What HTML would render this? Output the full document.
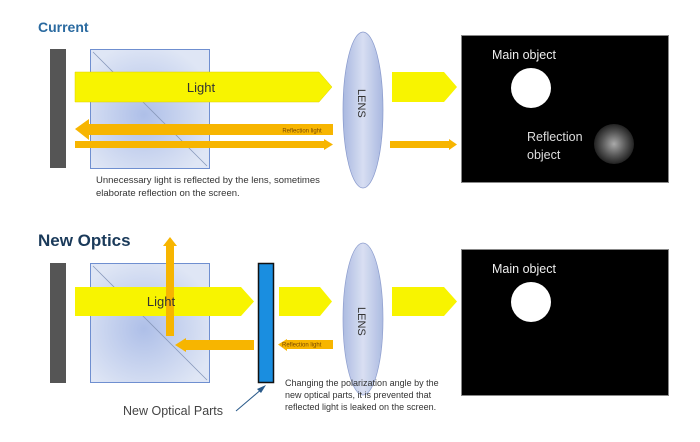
<!DOCTYPE html>
<html><head><meta charset="utf-8"><style>
html,body{margin:0;padding:0;background:#fff;width:700px;height:442px;overflow:hidden}
</style></head><body>
<svg width="700" height="442" viewBox="0 0 700 442" xmlns="http://www.w3.org/2000/svg" font-family="Liberation Sans, DejaVu Sans, sans-serif">
<defs>
<radialGradient id="pg" cx="0.45" cy="0.55" r="0.6"><stop offset="0" stop-color="#aebfe8"/><stop offset="1" stop-color="#dfe6f5"/></radialGradient>
<linearGradient id="lg" x1="0" y1="0" x2="1" y2="0"><stop offset="0" stop-color="#a9b8e0"/><stop offset="0.5" stop-color="#d7def2"/><stop offset="1" stop-color="#a9b8e0"/></linearGradient>
<radialGradient id="rg"><stop offset="0" stop-color="#aaa"/><stop offset="0.6" stop-color="#555"/><stop offset="1" stop-color="#222"/></radialGradient>
</defs>
<!-- Current -->
<text x="38" y="32" font-size="14" font-weight="bold" fill="#2a6aa0">Current</text>
<rect x="50" y="49" width="16" height="119" fill="#555"/>
<rect x="90.5" y="49.5" width="119" height="119" fill="url(#pg)" stroke="#6f8fd0"/>
<line x1="93" y1="52" x2="207" y2="166" stroke="#8899bb" stroke-width="0.8"/>
<polygon points="75,72 319,72 332,87 319,102 75,102" fill="#f8f400" stroke="#e0d000" stroke-width="0.5"/>
<text x="201" y="92" font-size="13" text-anchor="middle" fill="#333">Light</text>
<polygon points="75,129 89,119 89,124 333,124 333,135 89,135 89,140" fill="#f7b500"/>
<text x="302" y="132.5" font-size="6" text-anchor="middle" fill="#7a4a00">Reflection light</text>
<polygon points="75,141 324,141 324,139 333,144.5 324,150 324,148 75,148" fill="#f7b500"/>
<ellipse cx="363" cy="110" rx="20" ry="78" fill="url(#lg)" stroke="#8899cc" stroke-width="0.7"/>
<text x="0" y="0" font-size="11" fill="#333" transform="translate(358,89) rotate(90)">LENS</text>
<polygon points="392,72 444,72 457,87 444,102 392,102" fill="#f8f400"/>
<polygon points="390,141 449,141 449,139 457,144.5 449,150 449,148 390,148" fill="#f7b500"/>
<text x="96" y="183" font-size="9.5" fill="#333">Unnecessary light is reflected by the lens, sometimes</text>
<text x="96" y="196" font-size="9.5" fill="#333">elaborate reflection on the screen.</text>
<rect x="461.5" y="35.5" width="207" height="147" fill="#000" stroke="#888"/>
<text x="492" y="59" font-size="12.5" fill="#eee">Main object</text>
<circle cx="531" cy="88" r="20" fill="#fff"/>
<text x="527" y="141" font-size="12.5" fill="#ddd">Reflection</text>
<text x="527" y="159" font-size="12.5" fill="#ddd">object</text>
<circle cx="614" cy="144" r="20" fill="url(#rg)"/>
<!-- New Optics -->
<text x="38" y="246" font-size="17" font-weight="bold" fill="#1a3a5a">New Optics</text>
<rect x="50" y="263" width="16" height="120" fill="#555"/>
<rect x="90.5" y="263.5" width="119" height="119" fill="url(#pg)" stroke="#6f8fd0"/>
<line x1="93" y1="266" x2="207" y2="380" stroke="#8899bb" stroke-width="0.8"/>
<polygon points="75,287 241,287 254,301.5 241,316 75,316" fill="#f8f400"/>
<polygon points="166,336 166,246 163,246 170,237 177,246 174,246 174,336" fill="#f7b500"/>
<text x="161" y="306" font-size="13" text-anchor="middle" fill="#333">Light</text>
<polygon points="175,345 186,338 186,340 254,340 254,350 186,350 186,352" fill="#f7b500"/>
<rect x="258.5" y="263.5" width="15" height="119" fill="#1a8ee0" stroke="#111" stroke-width="1.5"/>
<polygon points="279,287 320,287 332,301.5 320,316 279,316" fill="#f8f400"/>
<polygon points="278,344.5 287,339 287,340 333,340 333,349 287,349 287,351" fill="#f7b500"/>
<text x="282" y="346.5" font-size="6" fill="#7a4a00">Reflection light</text>
<ellipse cx="363" cy="319" rx="20" ry="76" fill="url(#lg)" stroke="#8899cc" stroke-width="0.7" opacity="0.95"/>
<text x="0" y="0" font-size="11" fill="#333" transform="translate(358,307) rotate(90)">LENS</text>
<polygon points="392,287 444,287 457,301.5 444,316 392,316" fill="#f8f400"/>
<text x="285" y="386" font-size="9" fill="#333">Changing the polarization angle by the</text>
<text x="285" y="398" font-size="9" fill="#333">new optical parts, it is prevented that</text>
<text x="285" y="410" font-size="9" fill="#333">reflected light is leaked on the screen.</text>
<text x="123" y="415" font-size="12.5" fill="#444">New Optical Parts</text>
<line x1="236" y1="411" x2="263" y2="388" stroke="#2a5a8a" stroke-width="1"/>
<polygon points="266,385 257,389 261,393" fill="#2a5a8a"/>
<rect x="461.5" y="249.5" width="207" height="146" fill="#000" stroke="#888"/>
<text x="492" y="273" font-size="12.5" fill="#eee">Main object</text>
<circle cx="531" cy="302" r="20" fill="#fff"/>
</svg>
</body></html>
